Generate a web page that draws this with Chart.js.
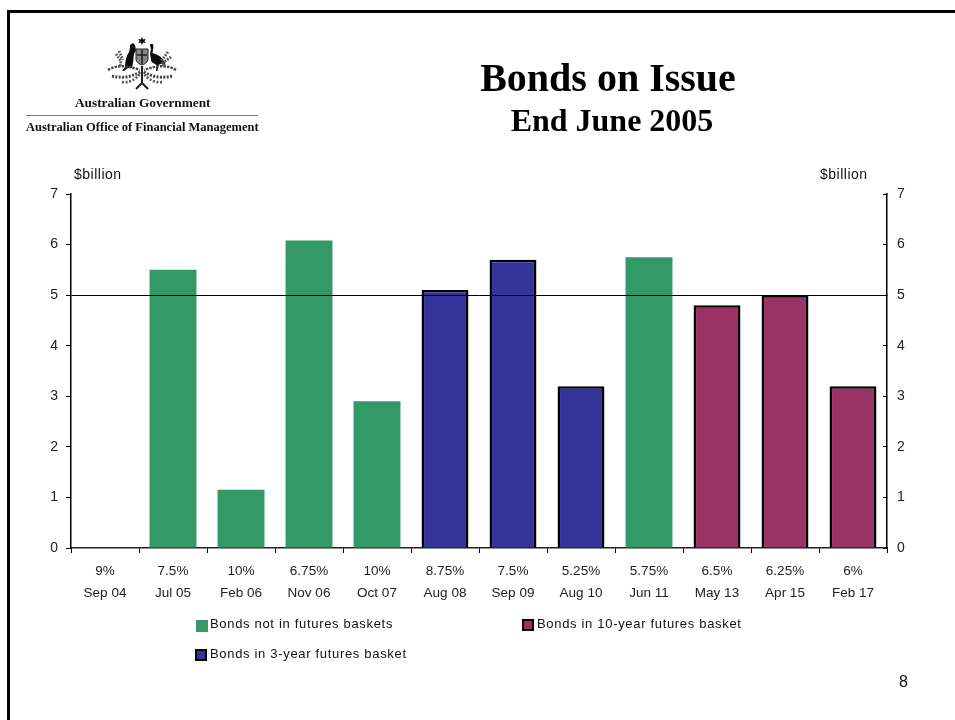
<!DOCTYPE html>
<html>
<head>
<meta charset="utf-8">
<title>Bonds on Issue</title>
<script src="https://cdn.jsdelivr.net/npm/chart.js@4"></script>
<style>
    html, body { margin: 0; padding: 0; background: #fff; }
    #page { position: relative; width: 955px; height: 720px; overflow: hidden; font-family: "Liberation Sans", Arial, sans-serif; color: #111; }
    #chart { position: absolute; left: 0; top: 0; }
    .frame-top { position: absolute; left: 7px; top: 10px; right: 0; height: 3px; background: #000; }
    .frame-left { position: absolute; left: 7px; top: 10px; bottom: 0; width: 3px; background: #000; }
    .txt { position: absolute; white-space: nowrap; }
    .title { font-family: "Liberation Serif", serif; font-weight: bold; color: #000; transform: translateX(-50%); }
    .org { font-family: "Liberation Serif", serif; font-weight: bold; line-height: 14px; color: #111; }
    .unit { font-size: 14px; line-height: 15px; letter-spacing: 0.5px; }
    .rule { position: absolute; left: 26px; top: 115px; width: 232px; height: 1px; background: #777; }
    .legend-box { position: absolute; width: 12px; height: 12px; box-sizing: border-box; }
    .legend-label { position: absolute; white-space: nowrap; font-size: 13px; line-height: 15px; letter-spacing: 0.68px; color: #111; }
</style>
</head>
<body>
<div id="page">
    <canvas id="chart" width="955" height="720"></canvas>
    <div class="frame-top"></div>
    <div class="frame-left"></div>

    <!-- coat of arms -->
    <svg class="txt" style="left:0;top:0" width="300" height="100" viewBox="0 0 300 100">
        <defs><filter id="soft"><feGaussianBlur stdDeviation="0.45"/></filter></defs>
        <g filter="url(#soft)">
            <path d="M142 37l1.2 2.4 2.6-.6-1.4 2.2 1.4 2.2-2.6-.6-1.2 2.4-1.2-2.4-2.6.6 1.4-2.2-1.4-2.2 2.6.6z" fill="#111"/>
            <path d="M133 43l-3 2v3l-1 4c-3 4-4 10-4 15l-3 4h2l4-3h4l1-5 1-9 2-4-1-5z" fill="#111"/>
            <path d="M150 44h3l.5 3-1 6c4 1 9 3 12 9l1 3-5-1-2 1-1 6h-1.5l.5-6-5-3-1.5-8 1-5-1-4z" fill="#111"/>
            <path d="M136 49h12v10c0 3-3 5-6 6-3-1-6-3-6-6z" fill="#888" stroke="#222"/>
            <path d="M137 55h10M142 50v14" stroke="#222" stroke-width="1.6"/>
            <path d="M108 70c10-6 20-4 32 0M176 70c-10-6-20-4-32 0" stroke="#444" fill="none" stroke-width="2.4" stroke-dasharray="2.4 1.2"/>
            <path d="M112 76c9 2 18 2 28-4M172 76c-9 2-18 2-28-4" stroke="#444" fill="none" stroke-width="3" stroke-dasharray="2 1.4"/>
            <path d="M122 82c7 1 13-2 19-9M162 82c-7 1-13-2-19-9" stroke="#555" fill="none" stroke-width="2.6" stroke-dasharray="2 1.6"/>
            <path d="M116 54l5 7-1 6M119 51l4 9M168 52l-6 8 1 6M171 57l-7 5" stroke="#555" fill="none" stroke-width="2.8" stroke-dasharray="1.8 1.2"/>
            <path d="M142 66v18M136 89l6-6 6 6" stroke="#222" fill="none" stroke-width="2"/>
        </g>
    </svg>
    <div class="txt org" style="left:75px;top:96px;font-size:13.3px">Australian Government</div>
    <div class="rule"></div>
    <div class="txt org" style="left:26px;top:120px;font-size:12.5px">Australian Office of Financial Management</div>

    <div class="txt title" style="left:608px;top:55px;font-size:40px;line-height:46px">Bonds on Issue</div>
    <div class="txt title" style="left:612px;top:102px;font-size:32px;line-height:36px">End June 2005</div>

    <div class="txt unit" style="left:74px;top:167px">$billion</div>
    <div class="txt unit" style="left:820px;top:167px">$billion</div>
    <div class="txt" style="left:899px;top:673px;font-size:16px;line-height:18px">8</div>

    <div id="legend"></div>
</div>

<script>
const maturities = ['Sep 04', 'Jul 05', 'Feb 06', 'Nov 06', 'Oct 07', 'Aug 08', 'Sep 09', 'Aug 10', 'Jun 11', 'May 13', 'Apr 15', 'Feb 17'];
const coupons = ['9%', '7.5%', '10%', '6.75%', '10%', '8.75%', '7.5%', '5.25%', '5.75%', '6.5%', '6.25%', '6%'];

const notInBasket = [null, 5.5, 1.15, 6.08, 2.9, null, null, null, 5.75, null, null, null];
const in3YearBasket = [null, null, null, null, null, 5.1, 5.7, 3.2, null, null, null, null];
const in10YearBasket = [null, null, null, null, null, null, null, null, null, 4.8, 5.0, 3.2];

const yTicks = [0, 1, 2, 3, 4, 5, 6, 7];
const referenceLevel = 5;

const GREEN = '#339966';
const NAVY = '#333399';
const PLUM = '#993366';

const sansFamily = '"Liberation Sans", Arial, sans-serif';

// the gridline only shows at the reference level, ticks stay on every value
const levelLine = (ctx) => ctx.tick && ctx.tick.value === referenceLevel ? '#000' : 'rgba(0,0,0,0)';

const labels = maturities.map((m, i) => [coupons[i], m]);

new Chart(document.getElementById('chart').getContext('2d'), {
    type: 'bar',
    data: {
        labels: labels,
        datasets: [
            { label: 'Bonds not in futures baskets', data: notInBasket, backgroundColor: GREEN, borderWidth: 0 },
            { label: 'Bonds in 3-year futures basket', data: in3YearBasket, backgroundColor: NAVY, borderColor: '#000', borderWidth: 2.5 },
            { label: 'Bonds in 10-year futures basket', data: in10YearBasket, backgroundColor: PLUM, borderColor: '#000', borderWidth: 2.5 }
        ]
    },
    options: {
        responsive: false,
        animation: false,
        barPercentage: 0.69,
        categoryPercentage: 1,
        layout: { padding: { left: 31, right: 28, top: 194, bottom: 105 } },
        plugins: { legend: { display: false }, title: { display: false }, tooltip: { enabled: false } },
        scales: {
            x: {
                stacked: true,
                grid: { drawOnChartArea: false, tickLength: 5, tickColor: '#000', lineWidth: 1 },
                border: { color: '#222', width: 1.5 },
                ticks: { color: '#222', font: { family: sansFamily, size: 13.5, lineHeight: 1.63 }, maxRotation: 0, autoSkip: false, padding: 7 },
                afterFit: (scale) => { scale.height = 67; }
            },
            y: {
                stacked: true,
                min: 0,
                max: 7,
                afterBuildTicks: (scale) => { scale.ticks = yTicks.map((v) => ({ value: v })); },
                grid: { color: levelLine, tickColor: '#000', tickLength: 5, lineWidth: 1, z: 1 },
                // border has to share the grid's layer, it reads the position the grid works out
                border: { color: '#000', width: 1.5, z: 1 },
                ticks: { color: '#222', font: { family: sansFamily, size: 14 }, padding: 8 },
                afterFit: (scale) => { scale.width = 40; }
            },
            yRight: {
                position: 'right',
                min: 0,
                max: 7,
                afterBuildTicks: (scale) => { scale.ticks = yTicks.map((v) => ({ value: v })); },
                // negative length turns the ticks towards the plot
                grid: { drawOnChartArea: false, tickColor: '#000', tickLength: -4 },
                border: { color: '#000', width: 1.5 },
                ticks: { color: '#222', font: { family: sansFamily, size: 14 }, padding: 14 },
                afterFit: (scale) => { scale.width = 40; }
            }
        }
    }
});

// legend sits in two uneven columns, so it is built by hand from the same names
const legendItems = [
    { name: 'Bonds not in futures baskets', color: GREEN, outlined: false, boxX: 196, boxY: 620, textX: 210, textY: 616 },
    { name: 'Bonds in 10-year futures basket', color: PLUM, outlined: true, boxX: 522, boxY: 619, textX: 537, textY: 616 },
    { name: 'Bonds in 3-year futures basket', color: NAVY, outlined: true, boxX: 195, boxY: 649, textX: 210, textY: 646 }
];

const legendEl = document.getElementById('legend');
legendItems.forEach((item) => {
    const box = document.createElement('div');
    box.className = 'legend-box';
    box.style.left = item.boxX + 'px';
    box.style.top = item.boxY + 'px';
    box.style.background = item.color;
    if (item.outlined) box.style.border = '2px solid #000';
    legendEl.appendChild(box);

    const label = document.createElement('div');
    label.className = 'legend-label';
    label.style.left = item.textX + 'px';
    label.style.top = item.textY + 'px';
    label.textContent = item.name;
    legendEl.appendChild(label);
});
</script>
</body>
</html>
